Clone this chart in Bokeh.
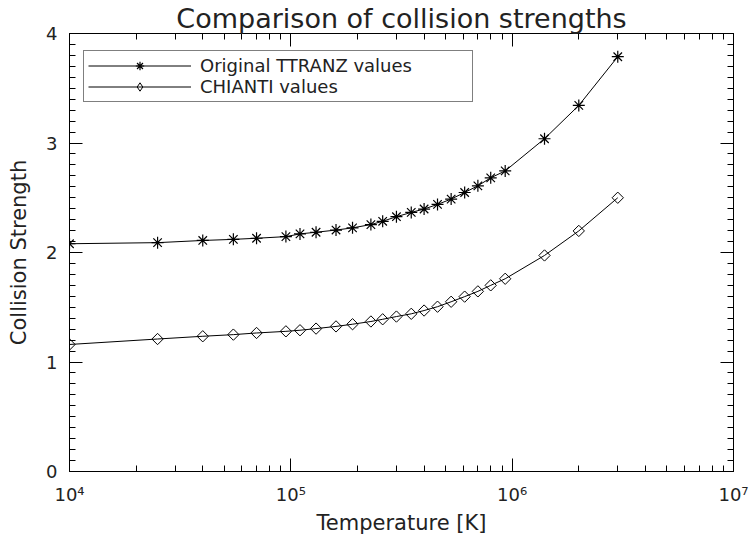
import numpy as np
from bokeh.plotting import figure
from bokeh.models import (LogAxis, LinearAxis, FixedTicker, Legend, LegendItem, Range1d)
from bokeh.embed import file_html
from bokeh.resources import INLINE

# ---- data ----
temperature = [1.0e4, 2.5e4, 4.0e4, 5.5e4, 7.0e4, 9.5e4, 1.1e5, 1.3e5, 1.6e5, 1.9e5,
               2.3e5, 2.6e5, 3.0e5, 3.5e5, 4.0e5, 4.6e5, 5.3e5, 6.1e5, 7.0e5, 8.0e5,
               9.3e5, 1.4e6, 2.0e6, 3.0e6]
ttranz = [2.08, 2.09, 2.11, 2.12, 2.13, 2.145, 2.17, 2.185, 2.205, 2.225,
          2.255, 2.285, 2.327, 2.366, 2.397, 2.439, 2.488, 2.548, 2.609, 2.682,
          2.745, 3.039, 3.343, 3.788]
chianti = [1.16, 1.21, 1.235, 1.25, 1.265, 1.28, 1.29, 1.305, 1.325, 1.345,
           1.37, 1.39, 1.415, 1.44, 1.47, 1.505, 1.55, 1.597, 1.645, 1.70,
           1.76, 1.973, 2.197, 2.50]
x_ticks = [1e4, 1e5, 1e6, 1e7]
x_tick_labels = ["10\u2074", "10\u2075", "10\u2076", "10\u2077"]
y_ticks = [0, 1, 2, 3, 4]
y_tick_labels = ["0", "1", "2", "3", "4"]
series_labels = ["Original TTRANZ values", "CHIANTI values"]
title_text = "Comparison of collision strengths"
x_label = "Temperature [K]"
y_label = "Collision Strength"

FONT = "DejaVu Sans"
TXT = "#222222"

x_minor = [m * d for d in x_ticks[:-1] for m in range(2, 10)]
y_minor = [round(v * 0.1, 2) for v in range(0, 41) if v % 10 != 0]

def xticker():
    return FixedTicker(ticks=x_ticks, minor_ticks=x_minor)

def yticker():
    return FixedTicker(ticks=y_ticks, minor_ticks=y_minor)

p = figure(width=752, height=539, x_axis_type="log",
           x_range=Range1d(x_ticks[0], x_ticks[-1]), y_range=Range1d(y_ticks[0], y_ticks[-1]),
           output_backend="svg", toolbar_location=None,
           min_border_left=69, min_border_right=19, min_border_top=32, min_border_bottom=68,
           background_fill_color="white", border_fill_color="white",
           outline_line_color="black")
p.grid.visible = False

p.title.text = title_text
p.title.align = "center"
p.title.text_font = FONT
p.title.text_font_size = "27px"
p.title.text_font_style = "normal"
p.title.text_color = TXT
p.title.standoff = 0

def style(ax, show_labels=True):
    ax.axis_line_color = "black"
    ax.axis_line_width = 1
    ax.major_tick_in = 13
    ax.major_tick_out = 0
    ax.minor_tick_in = 6
    ax.minor_tick_out = 0
    ax.major_tick_line_color = "black"
    ax.minor_tick_line_color = "black"
    ax.major_tick_line_width = 1
    ax.minor_tick_line_width = 1
    ax.major_label_text_font = FONT
    ax.major_label_text_color = TXT
    ax.axis_label_text_font = FONT
    ax.axis_label_text_color = TXT
    ax.axis_label_text_font_style = "normal"
    ax.axis_label_text_font_size = "21px"
    if show_labels:
        ax.major_label_text_font_size = "18px"
    else:
        ax.major_label_text_font_size = "1px"
        ax.major_label_text_alpha = 0
        ax.major_label_standoff = 0

xa = p.xaxis[0]
xa.ticker = xticker()
xa.major_label_overrides = {t: l for t, l in zip(x_ticks, x_tick_labels)}
xa.axis_label = x_label
xa.major_label_standoff = 12
xa.axis_label_standoff = 3
style(xa)

ya = p.yaxis[0]
ya.ticker = yticker()
ya.major_label_overrides = {t: l for t, l in zip(y_ticks, y_tick_labels)}
ya.axis_label = y_label
ya.major_label_standoff = 12
ya.axis_label_standoff = 12
style(ya)

top_ax = LogAxis(ticker=xticker())
style(top_ax, show_labels=False)
p.add_layout(top_ax, "above")
right_ax = LinearAxis(ticker=yticker())
style(right_ax, show_labels=False)
p.add_layout(right_ax, "right")

l1 = p.line(temperature, ttranz, line_color="black", line_width=1)
s1 = p.scatter(temperature, ttranz, marker="asterisk", size=12, line_color="black", line_width=1.2)
l2 = p.line(temperature, chianti, line_color="black", line_width=1)
s2 = p.scatter(temperature, chianti, marker="square", angle=np.pi / 4, size=8,
               line_color="black", fill_color=None, line_width=1)
# legend key for the diamond symbol (legend glyphs are drawn unrotated); NaN point is never drawn
s2_key = p.scatter(x=[np.nan], y=[np.nan], marker="diamond", size=10, line_color="black",
                   fill_color=None, line_width=1)

legend = Legend(items=[LegendItem(label=series_labels[0], renderers=[l1, s1]),
                       LegendItem(label=series_labels[1], renderers=[l2, s2_key])],
                location=(14, 369), padding=4, spacing=0, margin=0,
                glyph_width=103, glyph_height=21, label_height=21, label_standoff=9,
                label_width=268,
                label_text_font=FONT, label_text_font_size="18px", label_text_color=TXT,
                border_line_color="black", border_line_width=1,
                background_fill_color="white", background_fill_alpha=1.0)
p.add_layout(legend, "center")

open("out.html", "w").write(file_html(p, INLINE))
